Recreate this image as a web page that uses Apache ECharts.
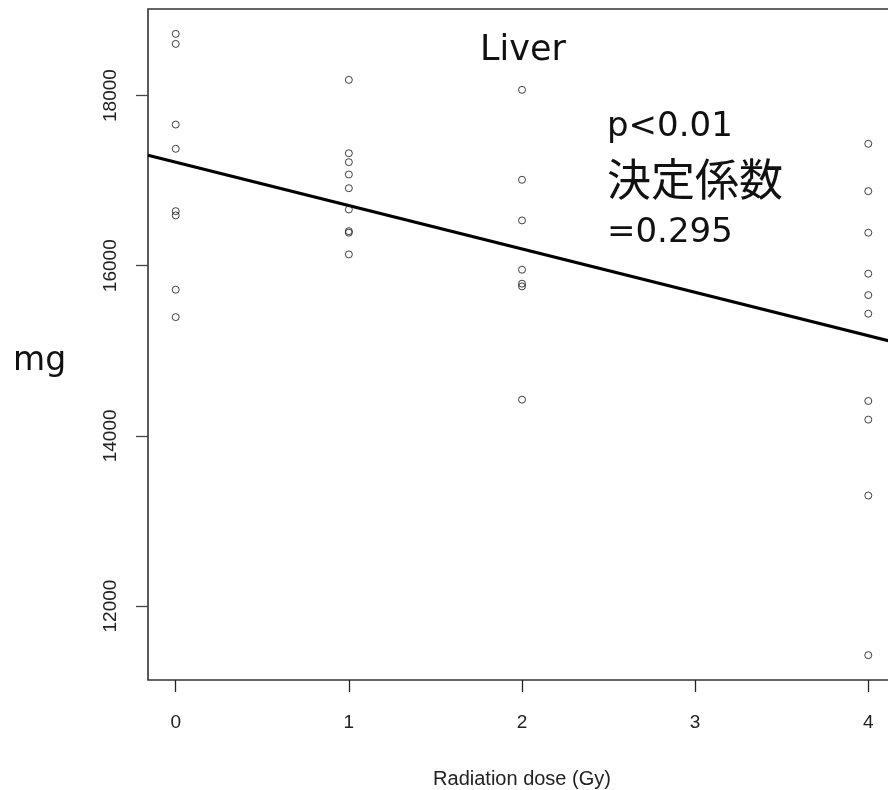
<!DOCTYPE html>
<html>
<head>
<meta charset="utf-8">
<script src="https://cdn.jsdelivr.net/npm/echarts@6/dist/echarts.min.js"></script>
<style>
html,body{margin:0;padding:0;background:#fff;}
#chart{width:888px;height:790px;}
</style>
</head>
<body>
<div id="chart"></div>
<script>
// Dose groups (Gy) and liver weights (mg)
const dose0 = [18725, 18607, 17659, 17374, 16641, 16591, 15718, 15396];
const dose1 = [18184, 17322, 17217, 17072, 16911, 16661, 16406, 16388, 16133];
const dose2 = [18067, 17010, 16532, 15953, 15789, 15757, 14426];
const dose4 = [17433, 16876, 16388, 15906, 15655, 15436, 14410, 14191, 13299, 11423];
const doses = [0, 1, 2, 4];
// fitted regression line read at the plot's left and right extent
const fitX = [-0.16, 4.16];
const fitY = [17299, 15095];
const xTicks = [0, 1, 2, 3, 4];
const yTicks = [12000, 14000, 16000, 18000];
const xTitle = 'Radiation dose (Gy)';
const yTitle = 'mg';
const panelTitle = 'Liver';
const statLines = ['p<0.01', '決定係数', '=0.295'];

const groups = [dose0, dose1, dose2, dose4];
const points = [];
groups.forEach((g, i) => g.forEach(v => points.push([doses[i], v])));

// R-style 4% axis extension
const allY = points.map(p => p[1]);
const yLo = Math.min(...allY), yHi = Math.max(...allY);
const yPad = (yHi - yLo) * 0.04;
const xPad = (Math.max(...doses) - Math.min(...doses)) * 0.04;

const chart = echarts.init(document.getElementById('chart'), null, {renderer: 'canvas'});
const axisFont = 'Liberation Sans, Arial, sans-serif';
chart.setOption({
  animation: false,
  backgroundColor: '#fff',
  grid: {
    left: 148, top: 9, right: -8, bottom: 110,
    containLabel: false, outerBoundsMode: 'none',
    show: true, borderColor: '#333', borderWidth: 1.6, backgroundColor: 'transparent'
  },
  xAxis: {
    type: 'value',
    min: Math.min(...doses) - xPad,
    max: Math.max(...doses) + xPad,
    axisLine: {show: false, onZero: false},
    splitLine: {show: false},
    axisTick: {show: true, inside: false, length: 12, customValues: xTicks, lineStyle: {color: '#222', width: 1.3}},
    axisLabel: {show: true, customValues: xTicks, margin: 33, color: '#222', fontSize: 19, fontFamily: axisFont,
      formatter: v => String(v)},
    name: xTitle,
    nameLocation: 'middle',
    nameGap: 89,
    nameTextStyle: {color: '#222', fontSize: 20, fontFamily: axisFont}
  },
  yAxis: {
    type: 'value',
    min: yLo - yPad,
    max: yHi + yPad,
    axisLine: {show: false, onZero: false},
    splitLine: {show: false},
    axisTick: {show: true, inside: false, length: 12, customValues: yTicks, lineStyle: {color: '#444', width: 1.3}},
    axisLabel: {show: true, customValues: yTicks, rotate: 90, margin: 28, color: '#222', fontSize: 19, fontFamily: axisFont,
      formatter: v => String(v)}
  },
  graphic: [
    {type: 'text', left: 13, top: 345, style: {text: yTitle, font: '33px "DejaVu Sans"', fill: '#111'}},
    {type: 'text', left: 480, top: 33, style: {text: panelTitle, font: '35px "DejaVu Sans"', fill: '#111'}},
    {type: 'text', left: 607, top: 110, style: {text: statLines[0], font: '34px "DejaVu Sans"', fill: '#111'}},
    {type: 'text', left: 607, top: 157, style: {text: statLines[1], font: '44px "Noto Sans CJK JP"', fill: '#111'}},
    {type: 'text', left: 607, top: 216, style: {text: statLines[2], font: '34px "DejaVu Sans"', fill: '#111'}}
  ],
  series: [
    {
      type: 'scatter',
      data: points,
      symbol: 'circle',
      symbolSize: 7,
      itemStyle: {color: 'rgba(255,255,255,0)', borderColor: '#111', borderWidth: 1},
      z: 3
    },
    {
      type: 'line',
      data: fitX.map((x, i) => [x, fitY[i]]),
      symbol: 'none',
      lineStyle: {color: '#000', width: 3.2},
      z: 2
    }
  ]
});
</script>
</body>
</html>
